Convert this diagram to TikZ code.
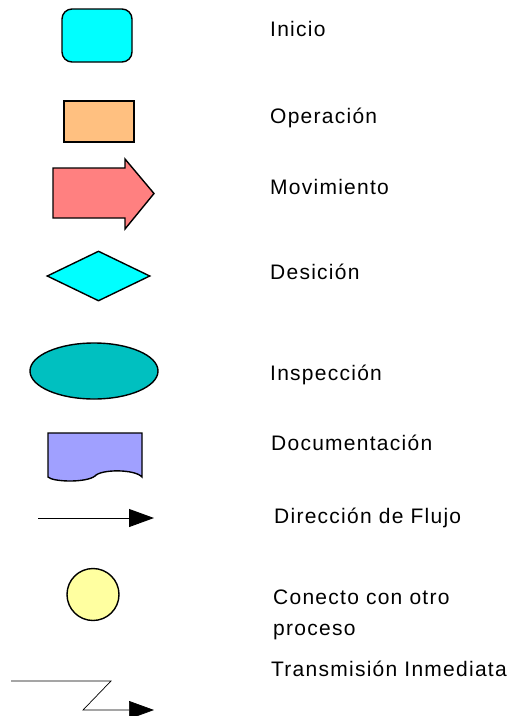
\documentclass[tikz,border=0pt]{standalone}
\usepackage{fontspec}
\usepackage{tikz}
\usetikzlibrary{arrows.meta,shapes.geometric}
\newfontfamily\rotulofont[LetterSpace=6]{Liberation Sans}
\definecolor{cian}{RGB}{0,255,255}
\definecolor{naranja}{RGB}{255,192,128}
\definecolor{rosa}{RGB}{255,128,128}
\definecolor{turquesa}{RGB}{0,192,192}
\definecolor{lila}{RGB}{160,160,255}
\definecolor{amarillo}{RGB}{255,255,160}
\tikzset{
  simbolo/.style={draw, line width=1.4pt, inner sep=0pt},
  rotulo/.style={anchor=base west, inner sep=0pt, align=left,
    font=\rotulofont\fontsize{21}{31}\selectfont},
  flujo/.style={-{Triangle[length=25pt,width=18pt]}, line width=0.9pt}
}
\begin{document}
\begin{tikzpicture}[x=1pt,y=-1pt]
\useasboundingbox (0,0) rectangle (515,716);
\coordinate (M1) at (53,168) ;
\coordinate (M2) at (125,168) ;
\coordinate (M3) at (125,159) ;
\coordinate (M4) at (154,193.5) ;
\coordinate (M5) at (125,229) ;
\coordinate (M6) at (125,218) ;
\coordinate (M7) at (53,218) ;
\coordinate (F1) at (38,518) ;
\coordinate (F2) at (154,518) ;
\coordinate (T1) at (11,681) ;
\coordinate (T2) at (111,681) ;
\coordinate (T3) at (83,710) ;
\coordinate (T4) at (154,710) ;
\node[simbolo, fill=cian, rounded corners=10pt, minimum width=70pt,
  minimum height=53pt] (inicio) at (97,35.5) {};
\node[simbolo, fill=naranja, minimum width=70pt, minimum height=41pt]
  (operacion) at (99,121.5) {};
\draw[simbolo, fill=rosa] (M1) -- (M2) -- (M3) -- (M4) -- (M5) -- (M6)
  -- (M7) -- cycle ;
\node[simbolo, diamond, fill=cian, minimum width=103pt, minimum height=50pt]
  (desicion) at (98.5,276) {};
\node[simbolo, ellipse, fill=turquesa, minimum width=128pt,
  minimum height=56pt] (inspeccion) at (94,371) {};
\draw[simbolo, fill=lila] (48,433) -- (142,433) -- (142,477)
  .. controls (135,469) and (101,469) .. (95,476)
  .. controls (86,483) and (53,482) .. (48,477) -- cycle ;
\draw[flujo] (F1) -- (F2) ;
\node[simbolo, circle, fill=amarillo, minimum size=52pt] (conector)
  at (93,594.5) {};
\draw[flujo, line width=0.7pt] (T1) -- (T2) -- (T3) -- (T4) ;
\node[rotulo] (Linicio) at (270,36) {Inicio};
\node[rotulo] (Loperacion) at (270,123) {Operación};
\node[rotulo] (Lmovimiento) at (270,194) {Movimiento};
\node[rotulo] (Ldesicion) at (270,279) {Desición};
\node[rotulo] (Linspeccion) at (270,380) {Inspección};
\node[rotulo] (Ldocumentacion) at (271,450) {Documentación};
\node[rotulo] (Lflujo) at (274,523) {Dirección de Flujo};
\node[rotulo] (Lconector) at (273,635) {Conecto con otro\\proceso};
\node[rotulo] (Ltransmision) at (271,676) {Transmisión Inmediata};
\end{tikzpicture}
\end{document}
